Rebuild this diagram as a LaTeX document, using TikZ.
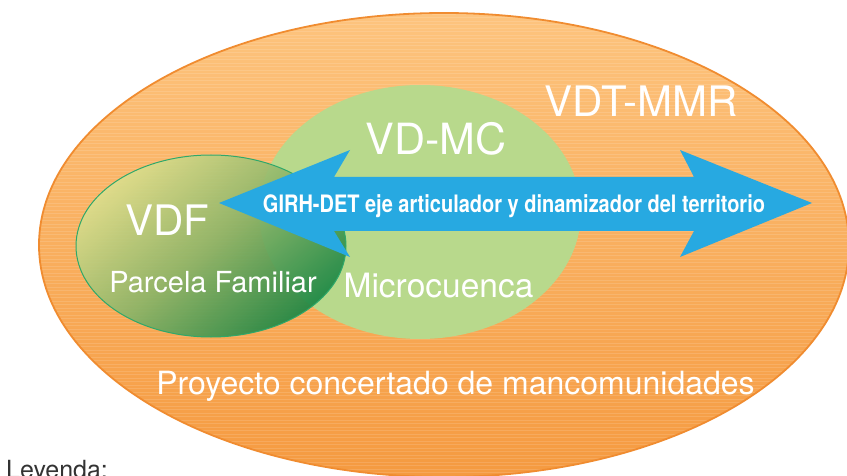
\documentclass[tikz,border=0pt]{standalone}
\usepackage{fontspec}
\setmainfont{TeX Gyre Heros}
\usepackage{graphicx}
\definecolor{orTop}{HTML}{FDC47E}
\definecolor{orBot}{HTML}{F59A40}
\definecolor{orEdge}{HTML}{F08C30}
\definecolor{mcGreen}{HTML}{B8D98C}
\definecolor{vdfLight}{HTML}{DCDE8C}
\definecolor{vdfMid}{HTML}{8AB468}
\definecolor{vdfDark}{HTML}{1C8745}
\definecolor{vdfEdge}{HTML}{2FA86A}
\definecolor{arrBlue}{HTML}{27A9E1}
\definecolor{legGray}{HTML}{333333}
\tikzset{
  wlabel/.style={text=white, inner sep=0pt, anchor=base},
}
\begin{document}
\begin{tikzpicture}[x=1pt,y=-1pt]
\useasboundingbox (0,0) rectangle (847,476);
\clip (0,0) rectangle (847,476);
\fill[white] (0,0) rectangle (847,476);
% outer orange ellipse
\shade[top color=orTop, bottom color=orBot] (444,245) ellipse [x radius=405, y radius=232];
\begin{scope}
  \clip (444,245) ellipse [x radius=405, y radius=232];
  \foreach \yy in {14,17.5,...,480} {
    \draw[white, opacity=0.13, line width=0.8pt] (30,\yy) -- (860,\yy);
  }
\end{scope}
\draw[orEdge, line width=1.8pt] (444,245) ellipse [x radius=405, y radius=232];
% VD-MC ellipse
\fill[mcGreen] (420,212) ellipse [x radius=161, y radius=127];
% VDF ellipse
\shade[shading=axis, top color=vdfLight, bottom color=vdfDark, middle color=vdfMid, shading angle=40, fill opacity=0.92]
  (211,246) ellipse [x radius=135, y radius=91];
\draw[vdfEdge, line width=1pt] (211,246) ellipse [x radius=135, y radius=91];
% double arrow
\fill[arrBlue] (219,203) -- (350,150) -- (334,177) -- (694,177) -- (680,150) -- (812,203)
  -- (680,257) -- (694,231) -- (334,231) -- (350,257) -- cycle;
% labels
\node[wlabel, font=\fontsize{42}{48}\selectfont] (vdt) at (641.5,117) {VDT-MMR};
\node[wlabel, font=\fontsize{43}{48}\selectfont] (vdmc) at (436,155) {VD-MC};
\node[wlabel, font=\fontsize{42}{48}\selectfont] (vdf) at (167.5,236) {VDF};
\node[wlabel, font=\fontsize{29}{34}\selectfont] (parcela) at (213,292) {Parcela Familiar};
\node[wlabel, font=\fontsize{33.5}{38}\selectfont] (micro) at (438.5,297) {Microcuenca};
\node[wlabel, font=\fontsize{32}{38}\selectfont] (proy) at (455.5,394) {Proyecto concertado de mancomunidades};
\node[wlabel, font=\fontsize{24}{28}\selectfont\bfseries] (girh) at (514,212.7)
  {\resizebox{502pt}{\height}{GIRH-DET eje articulador y dinamizador del territorio}};
\node[inner sep=0pt, anchor=base west, text=legGray, font=\fontsize{25}{30}\selectfont] (ley) at (6,478) {Leyenda:};
\end{tikzpicture}
\end{document}
